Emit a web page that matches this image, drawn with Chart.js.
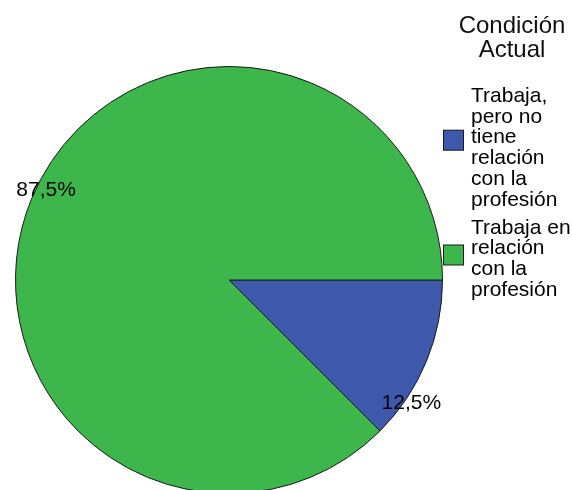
<!DOCTYPE html>
<html>
<head>
<meta charset="utf-8">
<script src="https://cdn.jsdelivr.net/npm/chart.js@4.4.1/dist/chart.umd.min.js"></script>
<style>
  html, body { margin: 0; padding: 0; background: #fff; overflow: hidden; }
  #wrap { position: absolute; left: 0; top: 0; width: 572px; height: 500px; }
</style>
</head>
<body>
<div id="wrap"><canvas id="c"></canvas></div>
<script>
// data
const legendTitle = ['Condición', 'Actual'];
const categories = [
  ['Trabaja,', 'pero no', 'tiene', 'relación', 'con la', 'profesión'],
  ['Trabaja en', 'relación', 'con la', 'profesión']
];
const percents = [12.5, 87.5];
const percentLabels = ['12,5%', '87,5%'];
const sliceColors = ['#3e58ac', '#3db64b'];

const FONT = '"Liberation Sans", Arial, sans-serif';

// where each % label sits: angle shift from slice middle (deg) and radius factor
const labelPlace = [
  { shift: 11.5, r: 1.03 },
  { shift: 3.7, r: 0.955 }
];
// legend box centre, measured down from the item's first baseline
const boxDrop = [38.5, 21.5];

const pieLabels = {
  id: 'pieLabels',
  afterDatasetsDraw(chart) {
    const ctx = chart.ctx;
    const arcs = chart.getDatasetMeta(0).data;
    ctx.save();
    ctx.font = '21px ' + FONT;
    ctx.fillStyle = '#000';
    ctx.textAlign = 'center';
    ctx.textBaseline = 'middle';
    arcs.forEach((arc, i) => {
      const p = arc.getProps(['x', 'y', 'startAngle', 'endAngle', 'outerRadius'], true);
      const a = (p.startAngle + p.endAngle) / 2 + labelPlace[i].shift * Math.PI / 180;
      const r = p.outerRadius * labelPlace[i].r;
      ctx.fillText(percentLabels[i], p.x + Math.cos(a) * r, p.y + Math.sin(a) * r);
    });
    ctx.restore();
  }
};

// legend on the right, multi-line labels like SPSS
const sideLegend = {
  id: 'sideLegend',
  afterDraw(chart) {
    const ctx = chart.ctx;
    const area = chart.chartArea;
    ctx.save();
    ctx.fillStyle = '#111';
    ctx.textAlign = 'center';
    ctx.textBaseline = 'alphabetic';
    ctx.font = '24px ' + FONT;
    legendTitle.forEach((t, i) => ctx.fillText(t, area.right + 69, 33 + i * 24));

    ctx.font = '21px ' + FONT;
    ctx.textAlign = 'left';
    const pitch = 20.8;
    let y = 101.7;
    categories.forEach((lines, i) => {
      lines.forEach((ln, k) => {
        ctx.fillStyle = '#000';
        ctx.fillText(ln, area.right + 28, y + k * pitch);
      });
      const mid = y + boxDrop[i];
      ctx.fillStyle = sliceColors[i];
      ctx.fillRect(area.right + 0.5, mid - 10, 20, 20);
      ctx.strokeStyle = '#1a1a1a';
      ctx.lineWidth = 1;
      ctx.strokeRect(area.right + 0.5, mid - 10, 20, 20);
      y += lines.length * pitch + 7;
    });
    ctx.restore();
  }
};

new Chart(document.getElementById('c'), {
  type: 'pie',
  data: {
    labels: categories,
    datasets: [{
      data: percents,
      backgroundColor: sliceColors,
      borderColor: '#1a1a1a',
      borderWidth: 1
    }]
  },
  options: {
    responsive: true,
    maintainAspectRatio: false,
    animation: false,
    rotation: 90,
    layout: { padding: { left: 15, right: 129, top: 66, bottom: 6 } },
    plugins: {
      legend: { display: false },
      tooltip: { enabled: false }
    }
  },
  plugins: [pieLabels, sideLegend]
});
</script>
</body>
</html>
